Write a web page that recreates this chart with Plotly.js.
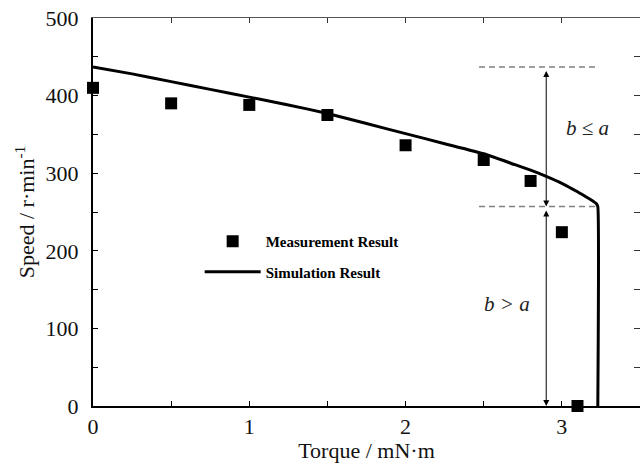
<!DOCTYPE html>
<html>
<head>
<meta charset="utf-8">
<script src="https://cdn.plot.ly/plotly-3.0.1.min.js"></script>
<style>html,body{margin:0;padding:0;background:#fff;}#chart{width:643px;height:463px;}</style>
</head>
<body>
<div id="chart"></div>
<script>
// Measurement data
var measTorque = [0, 0.5, 1.0, 1.5, 2.0, 2.5, 2.8, 3.0, 3.1];
var measSpeed  = [410, 390, 388, 375, 336, 317, 290, 224, 0];

// Simulation curve
var simTorque = [0, 0.25, 0.5, 0.75, 1.0, 1.25, 1.5, 1.75, 2.0, 2.25, 2.5, 2.7, 2.8, 2.9, 3.0, 3.1, 3.15, 3.2, 3.22, 3.23, 3.23];
var simSpeed  = [437, 428, 418, 408, 398, 388, 377, 364, 351, 338, 325, 311, 304, 296, 287, 276, 270, 264, 261, 257, 0];

// Axis ticks
var xTickVals = [0, 1, 2, 3];
var xTickText = ['0', '1', '2', '3'];
var xMinorVals = [0, 0.5, 1, 1.5, 2, 2.5, 3];
var yTickVals = [0, 100, 200, 300, 400, 500];
var yTickText = ['0', '100', '200', '300', '400', '500'];
var yMinorVals = [0, 50, 100, 150, 200, 250, 300, 350, 400, 450, 500];

// Annotation values
var upperLevel = simSpeed[0];
var kneeIdx = simSpeed.length - 2;
var lowerLevel = simSpeed[kneeIdx];
var dashStart = 2.47;
var dashEnd = simTorque[kneeIdx];
var arrowTorque = 2.9;
var labelUpper = {x: 3.165, y: 358, text: 'b ≤ a'};
var labelLower = {x: 2.65, y: 131, text: 'b > a'};

var serif = '"Liberation Serif", "Times New Roman", serif';

var traces = [
  {
    x: measTorque, y: measSpeed, type: 'scatter', mode: 'markers',
    name: 'Measurement Result', legendgroup: 'a',
    marker: {symbol: 'square', size: 12, color: '#000'},
    cliponaxis: false, hoverinfo: 'skip'
  },
  {
    x: simTorque, y: simSpeed, type: 'scatter', mode: 'lines',
    name: 'Simulation Result', legendgroup: 'b',
    line: {color: '#000', width: 3, shape: 'spline', smoothing: 0.4},
    cliponaxis: false, hoverinfo: 'skip'
  },
  {
    x: [0], y: [0], xaxis: 'x2', yaxis: 'y2', type: 'scatter', mode: 'markers',
    marker: {opacity: 0}, showlegend: false, hoverinfo: 'skip'
  }
];

var shapes = [upperLevel, lowerLevel].map(function (lv) {
  return {type: 'line', xref: 'x', yref: 'y', x0: dashStart, x1: dashEnd, y0: lv, y1: lv,
          line: {color: '#808080', width: 1.5, dash: '6px,4px'}};
});

function arrowAnn(y0, y1) {
  return {x: arrowTorque, y: y1, ax: arrowTorque, ay: y0, xref: 'x', yref: 'y', axref: 'x', ayref: 'y',
          text: ' ', showarrow: true, arrowhead: 2, startarrowhead: 2, arrowside: 'end+start',
          arrowsize: 1.2, startarrowsize: 1.2, arrowwidth: 1, arrowcolor: '#000', standoff: 0, startstandoff: 0,
          font: {size: 4}};
}

var annotations = [
  arrowAnn(upperLevel, lowerLevel),
  arrowAnn(lowerLevel, 0),
  {x: labelUpper.x, y: labelUpper.y, xref: 'x', yref: 'y', text: labelUpper.text, showarrow: false,
   font: {family: serif, size: 21, color: '#222', style: 'italic'}},
  {x: labelLower.x, y: labelLower.y, xref: 'x', yref: 'y', text: labelLower.text, showarrow: false,
   font: {family: serif, size: 21, color: '#222', style: 'italic'}}
];

var layout = {
  width: 643, height: 463,
  margin: {l: 93, r: 3, t: 18, b: 57},
  paper_bgcolor: '#fff', plot_bgcolor: '#fff',
  font: {family: serif, color: '#111', size: 22},
  showlegend: true,
  legend: {x: 0.195, y: 0.385, xanchor: 'left', yanchor: 'middle', bgcolor: 'rgba(0,0,0,0)',
           font: {family: serif, size: 15, weight: 'bold', color: '#000'},
           tracegroupgap: 8, itemwidth: 56},
  xaxis: {
    range: [0, 3.5], showgrid: false, zeroline: false,
    showline: true, linecolor: '#000', linewidth: 2,
    tickmode: 'array', tickvals: xTickVals, ticktext: xTickText,
    ticks: 'inside', ticklen: 5, tickcolor: '#000', tickwidth: 1,
    minor: {tickmode: 'array', tickvals: xMinorVals, ticks: 'inside', ticklen: 5, tickcolor: '#000', tickwidth: 1, showgrid: false},
    tickfont: {family: serif, size: 22},
    title: {text: 'Torque / mN·m', font: {family: serif, size: 22}, standoff: 0}
  },
  yaxis: {
    range: [0, 500], showgrid: false, zeroline: false,
    showline: true, linecolor: '#000', linewidth: 2,
    tickmode: 'array', tickvals: yTickVals, ticktext: yTickText,
    ticks: 'inside', ticklen: 5, tickcolor: '#000', tickwidth: 1,
    minor: {tickmode: 'array', tickvals: yMinorVals, ticks: 'inside', ticklen: 5, tickcolor: '#000', tickwidth: 1, showgrid: false},
    tickfont: {family: serif, size: 22}, ticklabelstandoff: 8,
    title: {text: 'Speed / r·min<sup>-1</sup>', font: {family: serif, size: 22}, standoff: 5}
  },
  xaxis2: {
    overlaying: 'x', side: 'top', range: [0, 3.5], showgrid: false, zeroline: false,
    showline: true, linecolor: '#555', linewidth: 1,
    tickmode: 'array', tickvals: xMinorVals, showticklabels: false,
    ticks: 'inside', ticklen: 5, tickcolor: '#333', tickwidth: 1
  },
  yaxis2: {
    overlaying: 'y', side: 'right', range: [0, 500], showgrid: false, zeroline: false,
    showline: false,
    tickmode: 'array', tickvals: yMinorVals, showticklabels: false,
    ticks: 'inside', ticklen: 6, tickcolor: '#333', tickwidth: 1
  },
  shapes: shapes,
  annotations: annotations
};

Plotly.newPlot('chart', traces, layout, {staticPlot: true, displayModeBar: false});
</script>
</body>
</html>
